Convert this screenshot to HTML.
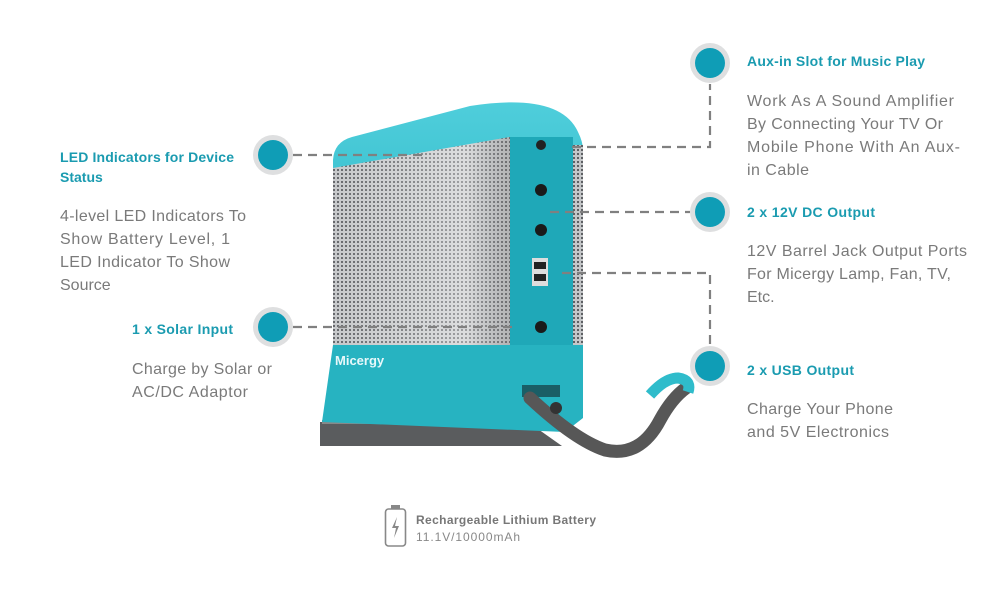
<!DOCTYPE html>
<html><head><meta charset="utf-8"><style>
html,body{margin:0;padding:0;background:#fff;}
svg{display:block;font-family:"Liberation Sans",Arial,sans-serif;}
.t{fill:#1a9bb0;font-weight:bold;font-size:14px;}
.b{fill:#7a7a7a;font-size:16px;}
.d{stroke:#808080;stroke-width:2.2;stroke-dasharray:9,6;fill:none;}
</style></head><body>
<svg width="1000" height="600" viewBox="0 0 1000 600">
<defs>
<pattern id="g" width="4" height="4" patternUnits="userSpaceOnUse"><rect width="4" height="4" fill="#c4c6c8"/><rect x="1" y="1" width="2" height="2" fill="#5e6064"/></pattern>
<linearGradient id="sil" x1="0" x2="1"><stop offset="0" stop-color="#ffffff" stop-opacity="0.05"/><stop offset="0.75" stop-color="#ffffff" stop-opacity="0.4"/><stop offset="1" stop-color="#888" stop-opacity="0.3"/></linearGradient>
<linearGradient id="cap" x1="0" y1="0" x2="0" y2="1"><stop offset="0" stop-color="#4fcedb"/><stop offset="1" stop-color="#22b0c0"/></linearGradient>
</defs>
<!-- product -->
<path d="M320 422 L528 422 L562 446 L320 446 Z" fill="#5a5c5e"/>
<path d="M322 420 L528 420 L530 424 L322 424 Z" fill="#888"/>
<path d="M333 345 L583 345 L583 418 L565 432 L322 422 Z" fill="#27b3c1"/>
<path d="M333 168 L333 160 Q334 142 352 137 L470 106 Q560 92 578 132 Q583 142 583 150 L583 345 L333 345 Z" fill="url(#cap)"/>
<path d="M333 168 L510 137 L510 345 L333 345 Z" fill="url(#g)"/>
<path d="M333 168 L510 137 L510 345 L333 345 Z" fill="url(#sil)"/>
<rect x="510" y="137" width="63" height="208" fill="#1fa8b8"/>
<rect x="573" y="145" width="10" height="200" fill="url(#g)"/>
<circle cx="541" cy="145" r="5" fill="#222"/>
<circle cx="541" cy="190" r="6" fill="#1a1a1a"/>
<circle cx="541" cy="230" r="6" fill="#1a1a1a"/>
<rect x="532" y="258" width="16" height="28" fill="#ddd"/>
<rect x="534" y="262" width="12" height="7" fill="#222"/><rect x="534" y="274" width="12" height="7" fill="#222"/>
<circle cx="541" cy="327" r="6" fill="#1a1a1a"/>
<text x="335" y="365" fill="#e8f8fa" font-size="13" font-weight="bold">Micergy</text>
<rect x="522" y="385" width="38" height="12" fill="#1a5e66"/>
<path d="M530 398 Q575 440 605 450 Q640 458 660 420 Q672 398 686 388" fill="none" stroke="#575757" stroke-width="13" stroke-linecap="round"/>
<path d="M650 395 Q665 378 678 378 Q692 380 688 392" fill="none" stroke="#2fbccb" stroke-width="11"/>
<circle cx="556" cy="408" r="6" fill="#333"/>
<!-- dashed connectors -->
<path class="d" d="M293 155 H425"/>
<path class="d" d="M293 327 H515"/>
<path class="d" d="M572 147 H710 V84"/>
<path class="d" d="M550 212 H690"/>
<path class="d" d="M562 273 H710 V345"/>
<!-- circles -->
<g fill="#dedfe0"><circle cx="273" cy="155" r="20"/><circle cx="273" cy="327" r="20"/><circle cx="710" cy="63" r="20"/><circle cx="710" cy="212" r="20"/><circle cx="710" cy="366" r="20"/></g>
<g fill="#0f9db6"><circle cx="273" cy="155" r="15"/><circle cx="273" cy="327" r="15"/><circle cx="710" cy="63" r="15"/><circle cx="710" cy="212" r="15"/><circle cx="710" cy="366" r="15"/></g>
<!-- left texts -->
<text class="t" x="60" y="162" textLength="174">LED Indicators for Device</text>
<text class="t" x="60" y="182">Status</text>
<text class="b" x="60" y="221" textLength="186">4-level LED Indicators To</text>
<text class="b" x="60" y="244" textLength="170">Show Battery Level, 1</text>
<text class="b" x="60" y="267" textLength="170">LED Indicator To Show</text>
<text class="b" x="60" y="290">Source</text>
<text class="t" x="132" y="334" textLength="101">1 x Solar Input</text>
<text class="b" x="132" y="374" textLength="140">Charge by Solar or</text>
<text class="b" x="132" y="397" textLength="116">AC/DC Adaptor</text>
<!-- right texts -->
<text class="t" x="747" y="66" textLength="178">Aux-in Slot for Music Play</text>
<text class="b" x="747" y="106" textLength="207">Work As A Sound Amplifier</text>
<text class="b" x="747" y="129" textLength="196">By Connecting Your TV Or</text>
<text class="b" x="747" y="152" textLength="213">Mobile Phone With An Aux-</text>
<text class="b" x="747" y="175" textLength="62">in Cable</text>
<text class="t" x="747" y="217" textLength="128">2 x 12V DC Output</text>
<text class="b" x="747" y="256" textLength="220">12V Barrel Jack Output Ports</text>
<text class="b" x="747" y="279" textLength="204">For Micergy Lamp, Fan, TV,</text>
<text class="b" x="747" y="302">Etc.</text>
<text class="t" x="747" y="375" textLength="107">2 x USB Output</text>
<text class="b" x="747" y="414" textLength="146">Charge Your Phone</text>
<text class="b" x="747" y="437" textLength="142">and 5V Electronics</text>
<!-- battery -->
<rect x="385.5" y="509" width="20" height="37" rx="3" fill="none" stroke="#888" stroke-width="1.6"/>
<rect x="391" y="505" width="9" height="4" fill="#888"/>
<path d="M397 517 L392 528 L396 528 L394 538 L399 526 L395 526 Z" fill="#888"/>
<text x="416" y="524" fill="#777" font-size="12" font-weight="bold" textLength="180">Rechargeable Lithium Battery</text>
<text x="416" y="541" fill="#888" font-size="12" textLength="104">11.1V/10000mAh</text>
</svg>
</body></html>
